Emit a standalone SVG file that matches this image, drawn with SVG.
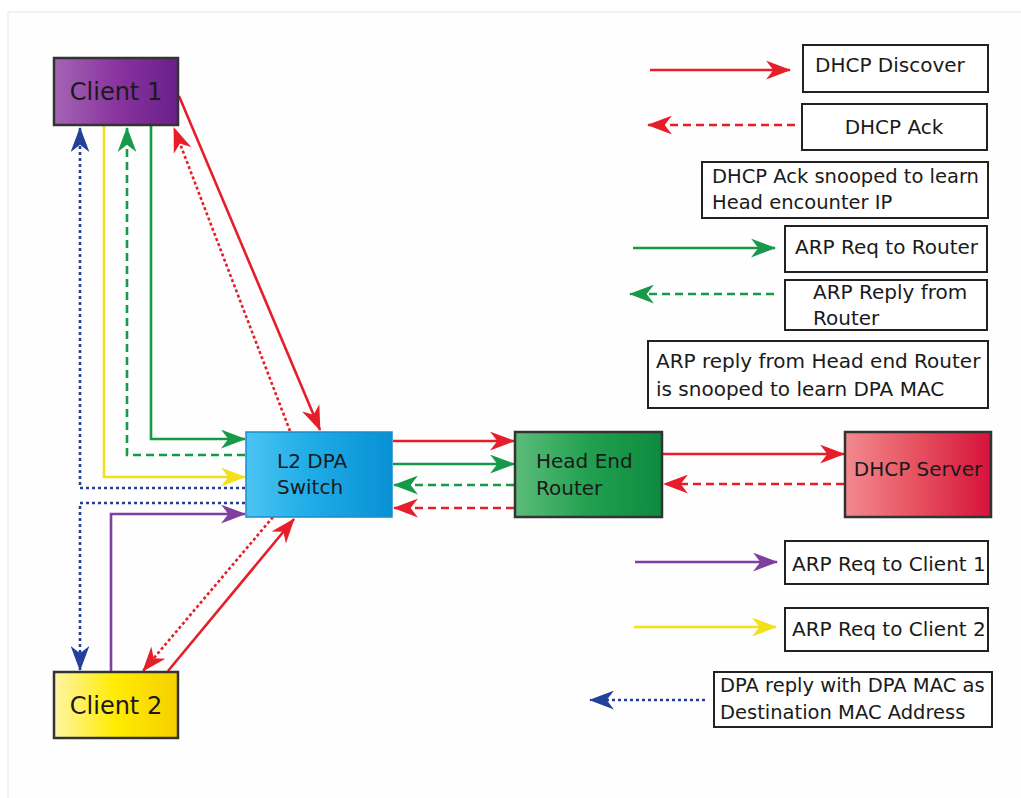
<svg xmlns="http://www.w3.org/2000/svg" width="1021" height="798" viewBox="0 0 1021 798">
<defs>
<style>
.t{font-family:"DejaVu Sans","Liberation Sans",sans-serif;fill:#1a1a1a}
.lg{font-size:20px}
.sm{font-size:19.5px}
.nd{font-size:20px}
.box{fill:#fff;stroke:#222;stroke-width:2}
.nb{stroke:#333;stroke-width:2.5}
.c{fill:none;stroke-width:2.6}
.red{stroke:#e61e2a}
.grn{stroke:#17994a}
.blu{stroke:#23409a}
.yel{stroke:#f4df1c}
.pur{stroke:#7e3f9f}
.dash{stroke-dasharray:8 5}
.dot{stroke-dasharray:3 2.5}
.bdot{stroke-dasharray:3 3}
</style>
<marker id="aR" viewBox="0 0 24 18" markerWidth="25" markerHeight="19" refX="23" refY="9" orient="auto" markerUnits="userSpaceOnUse"><path d="M0,0 L24,9 L0,18 L7,9 Z" fill="#e61e2a"/></marker>
<marker id="aG" viewBox="0 0 24 18" markerWidth="25" markerHeight="19" refX="23" refY="9" orient="auto" markerUnits="userSpaceOnUse"><path d="M0,0 L24,9 L0,18 L7,9 Z" fill="#17994a"/></marker>
<marker id="aB" viewBox="0 0 24 18" markerWidth="25" markerHeight="19" refX="23" refY="9" orient="auto" markerUnits="userSpaceOnUse"><path d="M0,0 L24,9 L0,18 L7,9 Z" fill="#23409a"/></marker>
<marker id="aY" viewBox="0 0 24 18" markerWidth="25" markerHeight="19" refX="23" refY="9" orient="auto" markerUnits="userSpaceOnUse"><path d="M0,0 L24,9 L0,18 L7,9 Z" fill="#f4df1c"/></marker>
<marker id="aP" viewBox="0 0 24 18" markerWidth="25" markerHeight="19" refX="23" refY="9" orient="auto" markerUnits="userSpaceOnUse"><path d="M0,0 L24,9 L0,18 L7,9 Z" fill="#7e3f9f"/></marker>
<linearGradient id="gC1" x1="0" y1="0" x2="1" y2="0"><stop offset="0" stop-color="#a465b4"/><stop offset="0.5" stop-color="#8a34a0"/><stop offset="1" stop-color="#6a1f8a"/></linearGradient>
<linearGradient id="gC2" x1="0" y1="0" x2="1" y2="0"><stop offset="0" stop-color="#fff5a8"/><stop offset="0.5" stop-color="#ffec00"/><stop offset="1" stop-color="#f6cf00"/></linearGradient>
<linearGradient id="gSw" x1="0" y1="0" x2="1" y2="0"><stop offset="0" stop-color="#4cc4f2"/><stop offset="0.4" stop-color="#22aee8"/><stop offset="1" stop-color="#0890d4"/></linearGradient>
<linearGradient id="gRt" x1="0" y1="0" x2="1" y2="0"><stop offset="0" stop-color="#5cbc7a"/><stop offset="0.5" stop-color="#22a050"/><stop offset="1" stop-color="#0d8a3e"/></linearGradient>
<linearGradient id="gDh" x1="0" y1="0" x2="1" y2="0"><stop offset="0" stop-color="#f28a90"/><stop offset="0.5" stop-color="#e6505e"/><stop offset="1" stop-color="#d6123c"/></linearGradient>
</defs>
<rect x="0" y="0" width="1021" height="798" fill="#fff"/>
<rect x="8" y="12" width="1020" height="800" fill="#fefefe" stroke="#eeeeee" stroke-width="1.5"/>

<g id="connectors">
<path class="c blu bdot" d="M245,488 H80 V128" marker-end="url(#aB)"/>
<path class="c blu bdot" d="M245,503 H80 V670" marker-end="url(#aB)"/>
<path class="c yel" d="M104,126 V477 H245" marker-end="url(#aY)"/>
<path class="c grn dash" d="M245,455 H127 V128" marker-end="url(#aG)"/>
<path class="c grn" d="M151,126 V439 H245" marker-end="url(#aG)"/>
<path class="c pur" d="M111,671 V514 H245" marker-end="url(#aP)"/>
<path class="c red" d="M179,96 L320,430" marker-end="url(#aR)"/>
<path class="c red dot" d="M290,431 L174,128" marker-end="url(#aR)"/>
<path class="c red" d="M168,671 L294,519" marker-end="url(#aR)"/>
<path class="c red dot" d="M273,517 L143,671" marker-end="url(#aR)"/>
<path class="c red" d="M393,441 H514" marker-end="url(#aR)"/>
<path class="c grn" d="M393,464 H514" marker-end="url(#aG)"/>
<path class="c grn dash" d="M514,485 H394" marker-end="url(#aG)"/>
<path class="c red dash" d="M514,508 H394" marker-end="url(#aR)"/>
<path class="c red" d="M663,454 H844" marker-end="url(#aR)"/>
<path class="c red dash" d="M844,484 H664" marker-end="url(#aR)"/>
<path class="c red" d="M650,70 H790" marker-end="url(#aR)"/>
<path class="c red dash" d="M795,125 H648" marker-end="url(#aR)"/>
<path class="c grn" d="M633,248 H775" marker-end="url(#aG)"/>
<path class="c grn dash" d="M774,294 H630" marker-end="url(#aG)"/>
<path class="c pur" d="M635,562 H777" marker-end="url(#aP)"/>
<path class="c yel" d="M634,627 H776" marker-end="url(#aY)"/>
<path class="c blu bdot" d="M705,700 H590" marker-end="url(#aB)"/>
</g>

<g id="client1">
<rect class="nb" x="54" y="58" width="124" height="67" fill="url(#gC1)"/>
<text class="t" x="116" y="100" font-size="24" text-anchor="middle">Client 1</text>
</g>
<g id="client2">
<rect class="nb" x="54" y="672" width="124" height="66" fill="url(#gC2)"/>
<text class="t" x="116" y="714" font-size="24" text-anchor="middle">Client 2</text>
</g>
<g id="switch">
<rect x="246" y="432" width="146" height="85" fill="url(#gSw)" stroke="#1a8cc8" stroke-width="1.5"/>
<text class="t nd" x="277" y="468">L2 DPA</text>
<text class="t nd" x="277" y="494">Switch</text>
</g>
<g id="router">
<rect class="nb" x="515" y="432" width="147" height="85" fill="url(#gRt)"/>
<text class="t nd" x="536" y="468">Head End</text>
<text class="t nd" x="536" y="495">Router</text>
</g>
<g id="dhcp">
<rect class="nb" x="845" y="432" width="146" height="85" fill="url(#gDh)"/>
<text class="t nd" x="918" y="476" text-anchor="middle">DHCP Server</text>
</g>

<g id="legend">
<rect class="box" x="803" y="45" width="185" height="47"/>
<text class="t lg" x="815" y="72" font-size="21">DHCP Discover</text>
<rect class="box" x="802" y="104" width="185" height="46"/>
<text class="t lg" x="894" y="134" text-anchor="middle">DHCP Ack</text>
<rect class="box" x="702" y="162" width="286" height="56"/>
<text class="t sm" x="712" y="183">DHCP Ack snooped to learn</text>
<text class="t sm" x="712" y="209">Head encounter IP</text>
<rect class="box" x="785" y="226" width="202" height="46"/>
<text class="t lg" x="795" y="254">ARP Req to Router</text>
<rect class="box" x="785" y="280" width="202" height="50"/>
<text class="t lg" x="813" y="299">ARP Reply from</text>
<text class="t lg" x="813" y="325">Router</text>
<rect class="box" x="648" y="341" width="340" height="67"/>
<text class="t lg" x="656" y="368">ARP reply from Head end Router</text>
<text class="t lg" x="656" y="396">is snooped to learn DPA MAC</text>
<rect class="box" x="785" y="541" width="203" height="43"/>
<text class="t lg" x="792" y="571">ARP Req to Client 1</text>
<rect class="box" x="785" y="608" width="203" height="43"/>
<text class="t lg" x="792" y="636">ARP Req to Client 2</text>
<rect class="box" x="714" y="672" width="278" height="55"/>
<text class="t sm" x="720" y="692">DPA reply with DPA MAC as</text>
<text class="t sm" x="720" y="719">Destination MAC Address</text>
</g>
</svg>
